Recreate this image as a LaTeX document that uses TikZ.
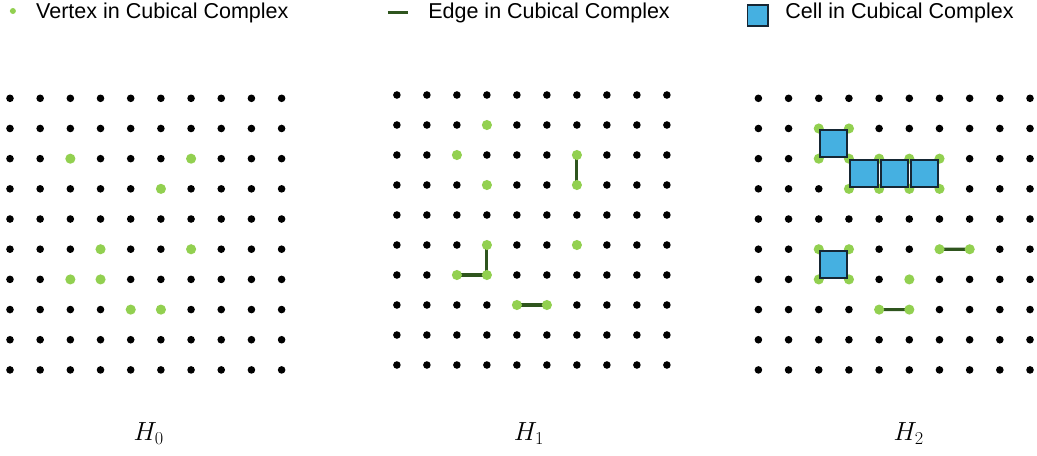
\documentclass[tikz,border=0pt]{standalone}
\usepackage{fontspec}
\setmainfont{Liberation Sans}
\usetikzlibrary{calc}
\definecolor{vtxgreen}  {RGB}{146, 208,  80}
\definecolor{edgegreen} {RGB}{ 47,  85,  30}
\definecolor{cellblue}  {RGB}{ 69, 176, 225}
\definecolor{celldark}  {RGB}{ 22,  38,  52}
\tikzset{
	griddot/.style={circle,fill=black,inner sep=0pt,minimum size=7.2pt},
	cxvertex/.style={circle,fill=vtxgreen,inner sep=0pt,minimum size=9.6pt},
	cxedge/.style={edgegreen,line width=3pt},
	cxcell/.style={fill=cellblue,draw=celldark,line width=1.9pt},
	legtext/.style={font=\fontsize{20.4}{24}\selectfont,anchor=base west,inner sep=0pt},
	homlabel/.style={font=\fontsize{24}{28}\selectfont,anchor=base west,inner sep=0pt}
}
\begin{document}
\begin{tikzpicture}
	\useasboundingbox (0,0) rectangle (34.567,15.167);
	% legend
	\node[circle,fill=vtxgreen,inner sep=0pt,minimum size=5.7pt] (legv) at (0.43,14.8) {};
	\node[legtext] (legvtext) at (1.2,14.557) {Vertex in Cubical Complex};
	\coordinate (lege1) at (12.93,14.74);
	\coordinate (lege2) at (13.6,14.74);
	\draw[cxedge] (lege1) -- (lege2);
	\node[legtext] (legetext) at (14.27,14.557) {Edge in Cubical Complex};
	\draw[cxcell,line width=1.6pt] (24.92,14.31) rectangle (25.6,15.0);
	\node[legtext] (legctext) at (26.17,14.557) {Cell in Cubical Complex};
	% H0
	\begin{scope}[shift={(0.333,11.89)},scale=1.006]
		\foreach \r in {0,...,9}
			\foreach \c in {0,...,9}
				\node[griddot] (a-\r-\c) at (\c,-\r) {};
		\foreach \r/\c in {2/2,2/6,3/5,5/3,5/6,6/2,6/3,7/4,7/5}
			\node[cxvertex] (av-\r-\c) at (a-\r-\c) {};
	\end{scope}
	% H1
	\begin{scope}[shift={(13.23,12.0)}]
		\foreach \r in {0,...,9}
			\foreach \c in {0,...,9}
				\node[griddot] (b-\r-\c) at (\c,-\r) {};
		\draw[cxedge] (b-2-6) -- (b-3-6);
		\draw[cxedge] (b-5-3) -- (b-6-3) -- (b-6-2);
		\draw[cxedge] (b-7-4) -- (b-7-5);
		\foreach \r/\c in {1/3,2/2,2/6,3/3,3/6,5/3,5/6,6/2,6/3,7/4,7/5}
			\node[cxvertex] (bv-\r-\c) at (b-\r-\c) {};
	\end{scope}
	% H2
	\begin{scope}[shift={(25.28,11.89)},scale=1.006]
		\foreach \r in {0,...,9}
			\foreach \c in {0,...,9}
				\node[griddot] (c-\r-\c) at (\c,-\r) {};
		\draw[cxedge] (c-5-6) -- (c-5-7);
		\draw[cxedge] (c-7-4) -- (c-7-5);
		\foreach \r/\c in {1/2,1/3,2/2,2/3,2/4,2/5,2/6,3/3,3/4,3/5,3/6,5/2,5/3,6/2,6/3,5/6,5/7,6/5,7/4,7/5}
			\node[cxvertex] (cv-\r-\c) at (c-\r-\c) {};
		\foreach \r/\c/\rr/\cc in {1/2/2/3,2/3/3/4,2/4/3/5,2/5/3/6,5/2/6/3}
			\draw[cxcell] ($(c-\r-\c)+(0.05,-0.05)$) rectangle ($(c-\rr-\cc)+(-0.05,0.05)$);
	\end{scope}
	% labels
	\node[homlabel] (h0) at (4.45,0.477) {$H_0$};
	\node[homlabel] (h1) at (17.12,0.477) {$H_1$};
	\node[homlabel] (h2) at (29.78,0.477) {$H_2$};
\end{tikzpicture}
\end{document}
